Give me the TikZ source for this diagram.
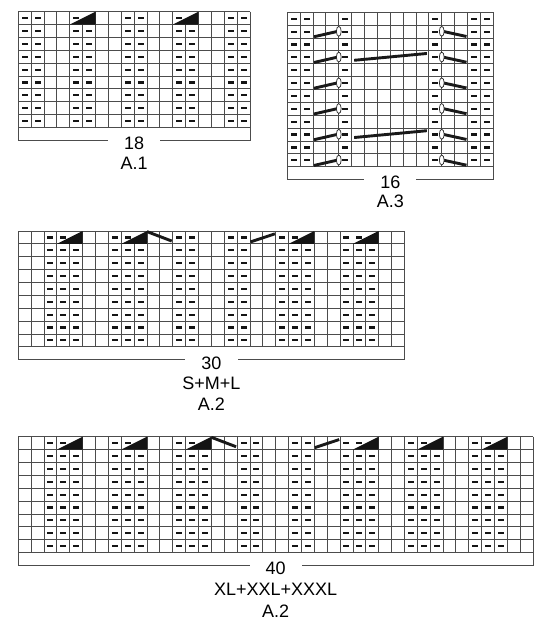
\documentclass[tikz,border=0pt]{standalone}
\usepackage{fontspec}
\setmainfont{Liberation Sans}
\usetikzlibrary{calc}
\newcommand{\lblfont}{\fontsize{18}{21}\selectfont}
\def\cw{12.87}
\tikzset{
  gridline/.style={draw=black!70, line width=0.85pt},
  frameline/.style={draw=black!70, line width=0.9pt},
  dashmark/.style={fill=black!92},
  trimark/.style={fill=black!92},
  thickline/.style={draw=black!90, line width=2.9pt},
  ovalmark/.style={draw=black!85, fill=white, line width=0.7pt},
  lbl/.style={font=\lblfont, inner sep=0pt},
  numlbl/.style={font=\lblfont, inner sep=0pt, minimum width=52pt}
}
% grid: prefix, x0, y0, ncols, nrows
\newcommand{\chartgrid}[5]{%
  \pgfmathsetmacro\xR{#2+#4*\cw}%
  \pgfmathsetmacro\yB{#3+#5*\cw}%
  \pgfmathsetmacro\yS{#3+(#5+1)*\cw}%
  \foreach \i in {0,...,#5}{\draw[gridline] (#2,{#3+\i*\cw}) -- (\xR,{#3+\i*\cw});}%
  \foreach \j in {1,...,#4}{\draw[gridline] ({#2+(\j-1)*\cw},#3) -- ({#2+(\j-1)*\cw},\yB);}%
  \coordinate (#1tl) at (#2,#3);%
  \coordinate (#1tr) at (\xR,#3);%
  \coordinate (#1bl) at (#2,\yS);%
  \coordinate (#1br) at (\xR,\yS);%
}
% purl dashes: x0, y0, column list, first row, last row
\newcommand{\purls}[5]{%
  \foreach \c in {#3}{\foreach \r in {#4,...,#5}{%
    \fill[dashmark] ({#1+(\c-0.5)*\cw-3},{#2+(\r-0.5)*\cw-1.1}) rectangle ++(6,2.2);}}%
}
% decrease triangle over cols c, c+1 in top row: x0, y0, c
\newcommand{\decr}[3]{%
  \fill[white] ({#1+(#3-1)*\cw+0.5},{#2+0.5}) rectangle ({#1+(#3+1)*\cw-0.5},{#2+\cw-0.5});%
  \fill[dashmark] ({#1+(#3-0.5)*\cw-3},{#2+0.5*\cw-1.1}) rectangle ++(6,2.2);%
  \fill[trimark] ({#1+(#3-1)*\cw},{#2+\cw}) -- ({#1+(#3+1)*\cw},{#2+\cw}) -- ({#1+(#3+1)*\cw},#2) -- cycle;%
}
% descending line over cols c, c+1 in top row
\newcommand{\descline}[3]{%
  \draw[thickline] ({#1+(#3-1)*\cw},{#2+0.6}) -- ({#1+(#3+1)*\cw-1},{#2+0.78*\cw});%
}
% rising line over cols c, c+1 in top row
\newcommand{\riseline}[3]{%
  \draw[thickline] ({#1+(#3-1)*\cw+0.5},{#2+0.85*\cw}) -- ({#1+(#3+1)*\cw-0.8},{#2+0.22*\cw});%
}
% A.3 cable row: x0, y0, row
\newcommand{\cablerow}[3]{%
  \pgfmathsetmacro\rt{#2+(#3-1)*\cw}%
  \draw[thickline] ({#1+2*\cw+1},{\rt+0.9*\cw}) -- ({#1+4*\cw},{\rt+0.46*\cw});%
  \draw[ovalmark] ({#1+4*\cw},{\rt+0.48*\cw}) ellipse [x radius=2.4pt, y radius=5pt];%
  \draw[thickline] ({#1+12*\cw},{\rt+0.46*\cw}) -- ({#1+14*\cw-1},{\rt+0.88*\cw});%
  \draw[ovalmark] ({#1+12*\cw},{\rt+0.48*\cw}) ellipse [x radius=2.4pt, y radius=5pt];%
}
\newcommand{\longline}[3]{%
  \pgfmathsetmacro\rt{#2+(#3-1)*\cw}%
  \draw[thickline] ({#1+5*\cw+2.5},{\rt+0.73*\cw}) -- ({#1+11*\cw-2},{\rt+0.2*\cw});%
}
\begin{document}
\begin{tikzpicture}[x=1pt,y=-1pt]
\useasboundingbox (0,0) rectangle (550,623);
\fill[white] (0,0) rectangle (550,623);

% ---------- A.1 ----------
\chartgrid{A}{18.3}{11.7}{18}{9}
\purls{18.3}{11.7}{1,2,5,6,9,10,13,14,17,18}{1}{9}
\decr{18.3}{11.7}{5}
\decr{18.3}{11.7}{13}
\node[numlbl] (n18) at ($(Abl)!0.5!(Abr)+(0,3)$) {18};
\node[lbl] (tA1) at ($(n18)+(0,19.5)$) {A.1};
\draw[frameline] (Atl) -- (Abl) -- (n18.west |- Abl);
\draw[frameline] (Atr) -- (Abr) -- (n18.east |- Abr);

% ---------- A.3 ----------
\chartgrid{B}{287.3}{12.3}{16}{12}
\purls{287.3}{12.3}{1,2,5,12,15,16}{1}{12}
\foreach \r in {2,4,6,8,10,12}{\cablerow{287.3}{12.3}{\r}}
\longline{287.3}{12.3}{4}
\longline{287.3}{12.3}{10}
\node[numlbl] (n16) at ($(Bbl)!0.5!(Bbr)+(0,3)$) {16};
\node[lbl] (tA3) at ($(n16)+(0,18.5)$) {A.3};
\draw[frameline] (Btl) -- (Bbl) -- (n16.west |- Bbl);
\draw[frameline] (Btr) -- (Bbr) -- (n16.east |- Bbr);

% ---------- A.2 S+M+L ----------
\chartgrid{C}{18.3}{231}{30}{9}
\purls{18.3}{231}{3,4,5,8,9,10,13,14,17,18,21,22,23,26,27,28}{1}{9}
\decr{18.3}{231}{4}
\decr{18.3}{231}{9}
\decr{18.3}{231}{22}
\decr{18.3}{231}{27}
\descline{18.3}{231}{11}
\riseline{18.3}{231}{19}
\node[numlbl] (n30) at ($(Cbl)!0.5!(Cbr)+(0,3.2)$) {30};
\node[lbl] (tSML) at ($(n30)+(0,20)$) {S+M+L};
\node[lbl] (tA2a) at ($(tSML)+(0,21.5)$) {A.2};
\draw[frameline] (Ctl) -- (Cbl) -- (n30.west |- Cbl);
\draw[frameline] (Ctr) -- (Cbr) -- (n30.east |- Cbr);

% ---------- A.2 XL+XXL+XXXL ----------
\chartgrid{D}{18.3}{436.7}{40}{9}
\purls{18.3}{436.7}{3,4,5,8,9,10,13,14,15,18,19,22,23,26,27,28,31,32,33,36,37,38}{1}{9}
\decr{18.3}{436.7}{4}
\decr{18.3}{436.7}{9}
\decr{18.3}{436.7}{14}
\decr{18.3}{436.7}{27}
\decr{18.3}{436.7}{32}
\decr{18.3}{436.7}{37}
\descline{18.3}{436.7}{16}
\riseline{18.3}{436.7}{24}
\node[numlbl] (n40) at ($(Dbl)!0.5!(Dbr)+(0,2.8)$) {40};
\node[lbl] (tXL) at ($(n40)+(0,21)$) {XL+XXL+XXXL};
\node[lbl] (tA2b) at ($(tXL)+(0,22.5)$) {A.2};
\draw[frameline] (Dtl) -- (Dbl) -- (n40.west |- Dbl);
\draw[frameline] (Dtr) -- (Dbr) -- (n40.east |- Dbr);
\end{tikzpicture}
\end{document}
